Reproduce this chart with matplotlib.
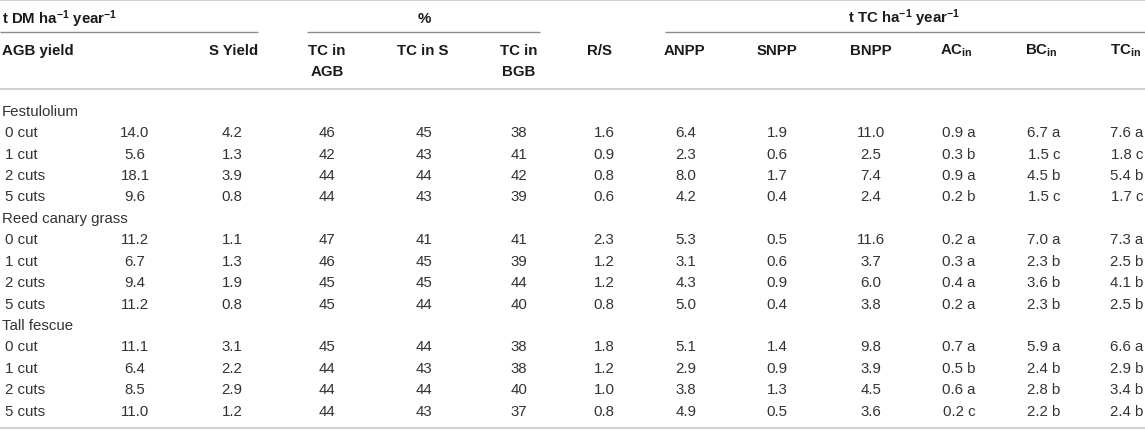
import matplotlib
matplotlib.use("Agg")
import matplotlib.pyplot as plt

plt.rcParams['font.family'] = ['Liberation Sans', 'DejaVu Sans']
plt.rcParams['mathtext.fontset'] = 'custom'
plt.rcParams['mathtext.rm'] = 'Liberation Sans:bold'
plt.rcParams['mathtext.it'] = 'Liberation Sans:bold'
plt.rcParams['mathtext.bf'] = 'Liberation Sans:bold'

# ---------------- data ----------------
species = ['Festulolium', 'Reed canary grass', 'Tall fescue']
cuts = ['0 cut', '1 cut', '2 cuts', '5 cuts']

agb_yield = [14.0, 5.6, 18.1, 9.6, 11.2, 6.7, 9.4, 11.2, 11.1, 6.4, 8.5, 11.0]
s_yield = [4.2, 1.3, 3.9, 0.8, 1.1, 1.3, 1.9, 0.8, 3.1, 2.2, 2.9, 1.2]
tc_agb = [46, 42, 44, 44, 47, 46, 45, 45, 45, 44, 44, 44]
tc_s = [45, 43, 44, 43, 41, 45, 45, 44, 44, 43, 44, 43]
tc_bgb = [38, 41, 42, 39, 41, 39, 44, 40, 38, 38, 40, 37]
r_s = [1.6, 0.9, 0.8, 0.6, 2.3, 1.2, 1.2, 0.8, 1.8, 1.2, 1.0, 0.8]
anpp = [6.4, 2.3, 8.0, 4.2, 5.3, 3.1, 4.3, 5.0, 5.1, 2.9, 3.8, 4.9]
snpp = [1.9, 0.6, 1.7, 0.4, 0.5, 0.6, 0.9, 0.4, 1.4, 0.9, 1.3, 0.5]
bnpp = [11.0, 2.5, 7.4, 2.4, 11.6, 3.7, 6.0, 3.8, 9.8, 3.9, 4.5, 3.6]
ac_in = [0.9, 0.3, 0.9, 0.2, 0.2, 0.3, 0.4, 0.2, 0.7, 0.5, 0.6, 0.2]
ac_in_grp = ['a', 'b', 'a', 'b', 'a', 'a', 'a', 'a', 'a', 'b', 'a', 'c']
bc_in = [6.7, 1.5, 4.5, 1.5, 7.0, 2.3, 3.6, 2.3, 5.9, 2.4, 2.8, 2.2]
bc_in_grp = ['a', 'c', 'b', 'c', 'a', 'b', 'b', 'b', 'a', 'b', 'b', 'b']
tc_in = [7.6, 1.8, 5.4, 1.7, 7.3, 2.5, 4.1, 2.5, 6.6, 2.9, 3.4, 2.4]
tc_in_grp = ['a', 'c', 'b', 'c', 'a', 'b', 'b', 'b', 'a', 'b', 'b', 'b']

group_headers = [r't DM ha$^{-1}$ year$^{-1}$', '%', r't TC ha$^{-1}$ year$^{-1}$']
col_headers = ['TC in\nAGB', 'TC in S', 'TC in\nBGB', 'R/S', 'ANPP', 'SNPP',
               'BNPP', r'AC$_{\mathrm{in}}$', r'BC$_{\mathrm{in}}$', r'TC$_{\mathrm{in}}$']

# ---------------- layout ----------------
W, H = 1145, 431
fig = plt.figure(figsize=(W / 100, H / 100), dpi=100)
ax = fig.add_axes([0, 0, 1, 1])
ax.set_xlim(0, W)
ax.set_ylim(H, 0)
ax.axis('off')

FS = 10.8
DATA_C = '#333333'
HEAD_C = '#1a1a1a'
LINE_LIGHT = '#d2d2d2'
LINE_MID = '#8c8c8c'

col_x = [135, 232, 327, 424, 519, 604, 686, 777, 871, 959, 1044, 1127]
head_x = [327, 423, 519, 600, 684, 777, 871, 956, 1041, 1125]

# rules
for yy in (1, 90, 429.5):
    ax.plot([0, W], [yy, yy], color=LINE_LIGHT, lw=1.5, solid_capstyle='butt')
for x0, x1 in [(0, 258), (307, 540), (665, W)]:
    ax.plot([x0, x1], [33, 33], color=LINE_MID, lw=1.0, solid_capstyle='butt')

# group headers
ax.text(2, 19, group_headers[0], fontsize=FS, fontweight='bold', color=HEAD_C,
        ha='left', va='center')
ax.text(424, 19, group_headers[1], fontsize=FS, fontweight='bold', color=HEAD_C,
        ha='center', va='center')
ax.text(904, 18, group_headers[2], fontsize=FS, fontweight='bold', color=HEAD_C,
        ha='center', va='center')

# column headers
ax.text(2, 51, 'AGB yield', fontsize=FS, fontweight='bold', color=HEAD_C,
        ha='left', va='center')
ax.text(258, 51, 'S Yield', fontsize=FS, fontweight='bold', color=HEAD_C,
        ha='right', va='center')
for x, lab in zip(head_x, col_headers):
    if '\n' in lab:
        l1, l2 = lab.split('\n')
        ax.text(x, 51, l1, fontsize=FS, fontweight='bold', color=HEAD_C,
                ha='center', va='center')
        ax.text(x, 72, l2, fontsize=FS, fontweight='bold', color=HEAD_C,
                ha='center', va='center')
    else:
        ax.text(x, 51, lab, fontsize=FS, fontweight='bold', color=HEAD_C,
                ha='center', va='center')

# body
y0 = 111.7
dy = 21.43
row = 0
k = 0
for sp in species:
    y = y0 + row * dy
    ax.text(2, y, sp, fontsize=FS, color=DATA_C, ha='left', va='center')
    row += 1
    for cut in cuts:
        y = y0 + row * dy
        vals = [f'{agb_yield[k]:.1f}', f'{s_yield[k]:.1f}', f'{tc_agb[k]:d}',
                f'{tc_s[k]:d}', f'{tc_bgb[k]:d}', f'{r_s[k]:.1f}', f'{anpp[k]:.1f}',
                f'{snpp[k]:.1f}', f'{bnpp[k]:.1f}',
                f'{ac_in[k]:.1f} {ac_in_grp[k]}', f'{bc_in[k]:.1f} {bc_in_grp[k]}',
                f'{tc_in[k]:.1f} {tc_in_grp[k]}']
        ax.text(5, y, cut, fontsize=FS, color=DATA_C, ha='left', va='center')
        for x, v in zip(col_x, vals):
            ax.text(x, y, v, fontsize=FS, color=DATA_C, ha='center', va='center')
        row += 1
        k += 1

fig.savefig('out.png', dpi=100)
